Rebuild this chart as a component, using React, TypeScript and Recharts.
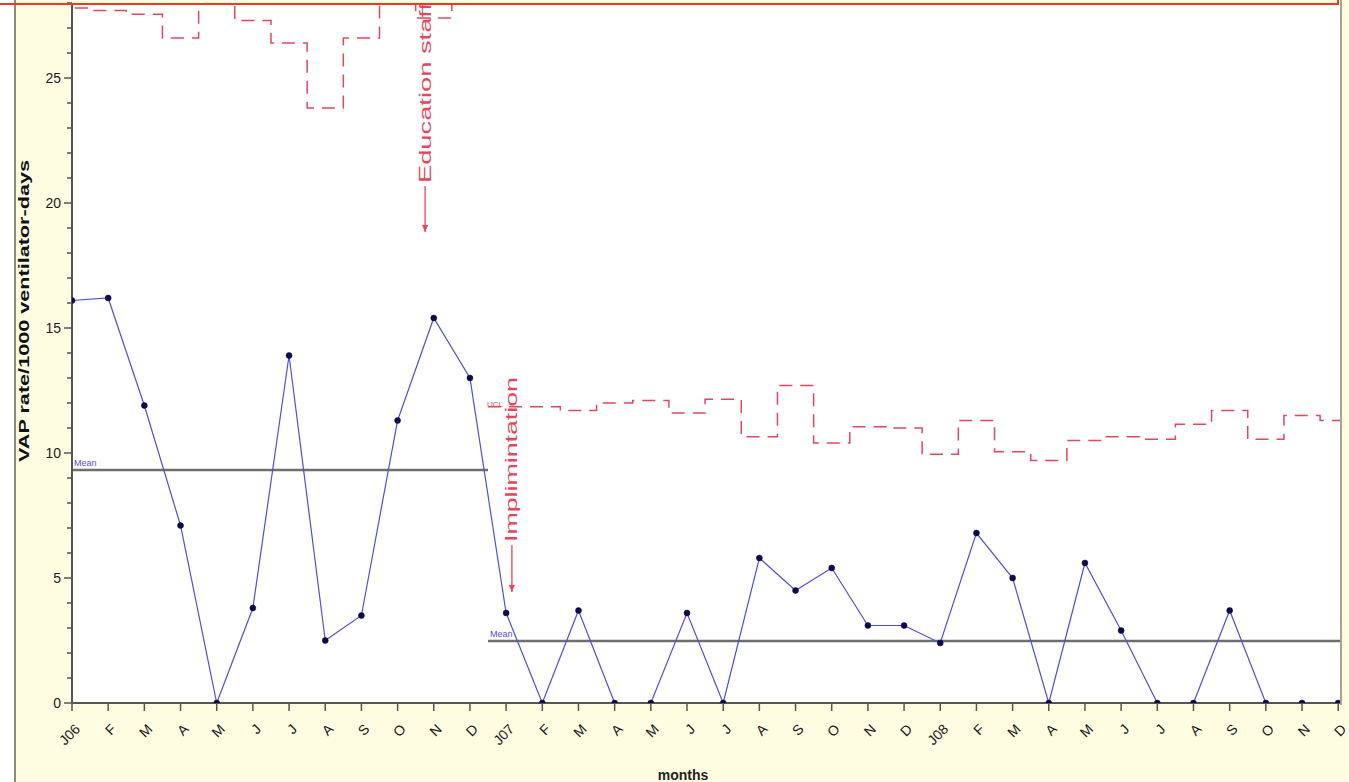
import React from 'react';
import { ComposedChart, Line, XAxis, YAxis, CartesianGrid, ReferenceLine } from 'recharts';

// months Jan 2006 .. Dec 2008
const months = [
  'J06', 'F', 'M', 'A', 'M', 'J', 'J', 'A', 'S', 'O', 'N', 'D',
  'J07', 'F', 'M', 'A', 'M', 'J', 'J', 'A', 'S', 'O', 'N', 'D',
  'J08', 'F', 'M', 'A', 'M', 'J', 'J', 'A', 'S', 'O', 'N', 'D',
];

// VAP rate per 1000 ventilator-days
const vapRate = [
  16.1, 16.2, 11.9, 7.1, 0, 3.8, 13.9, 2.5, 3.5, 11.3, 15.4, 13.0,
  3.6, 0, 3.7, 0, 0, 3.6, 0, 5.8, 4.5, 5.4, 3.1, 3.1,
  2.4, 6.8, 5.0, 0, 5.6, 2.9, 0, 0, 3.7, 0, 0, 0,
];

// upper control limits, before / after implementation
const uclBefore = [27.8, 27.7, 27.55, 26.6, 31, 27.3, 26.4, 23.8, 26.6, 30, 27.4, 30];
const uclAfter = [
  11.85, 11.85, 11.7, 12.0, 12.1, 11.6, 12.15, 10.65, 12.7, 10.4, 11.05, 11.0,
  9.95, 11.3, 10.05, 9.7, 10.5, 10.65, 10.55, 11.15, 11.7, 10.55, 11.5, 11.3,
];

const meanBefore = 9.32;
const meanAfter = 2.48;
const yTicks = Array.from({ length: 29 }, (_, i) => i);
const xTicks = months.map((_, i) => i);

const BLUE = '#4F4FDD';
const RED = '#E2475C';
const GREY = '#6E6E6E';
const X_MAX = 35.05;
const FONT = "Arial, 'Liberation Sans'";

const rateData = months.map((m, i) => ({ x: i, rate: vapRate[i] }));

// each limit covers its month from i-0.5 to i+0.5
const stepData = (values: number[], start: number) => [
  ...values.map((v, k) => ({ x: start + k - 0.5, ucl: v })),
  { x: start + values.length - 0.5, ucl: values[values.length - 1] },
];
const uclBeforeData = stepData(uclBefore, 0);
const uclAfterData = stepData(uclAfter, uclBefore.length);

const YTick = (props: any) => {
  const { x, y, payload } = props;
  const major = payload.value % 5 === 0;
  return (
    <g>
      <line x1={x - (major ? 8 : 5)} x2={x} y1={y} y2={y} stroke="#555" strokeWidth={1.5} />
      {major && (
        <text x={x - 11} y={y} dy={5} textAnchor="end" fontSize={14} fill="#1a1a1a" fontFamily={FONT}>
          {payload.value}
        </text>
      )}
    </g>
  );
};

const XTick = (props: any) => {
  const { x, y, payload } = props;
  const tx = x + 9;
  const ty = y + 27;
  return (
    <g>
      <line x1={x} x2={x} y1={y} y2={y + 8} stroke="#555" strokeWidth={1.5} />
      <text x={tx} y={ty} textAnchor="end" transform={`rotate(-45 ${tx} ${ty})`} fontSize={14} fill="#1a1a1a" fontFamily={FONT}>
        {months[payload.value]}
      </text>
    </g>
  );
};

const meanShape = (p: any) => (
  <g>
    <line x1={p.x1} y1={p.y1} x2={p.x2} y2={p.y2} stroke={GREY} strokeWidth={2.5} />
    <text x={Math.min(p.x1, p.x2) + 2} y={p.y1 - 4} fontSize={9} fill={BLUE} fontFamily={FONT}>Mean</text>
  </g>
);

const arrowShape = (label: string, len: number) => (p: any) => {
  const tipY = Math.max(p.y1, p.y2);
  const topY = Math.min(p.y1, p.y2);
  const x = p.x1;
  return (
    <g>
      <line x1={x} y1={topY} x2={x} y2={tipY} stroke={RED} strokeWidth={1.3} />
      <path d={`M${x - 3},${tipY - 7} L${x + 3},${tipY - 7} L${x},${tipY} Z`} fill={RED} />
      <text
        transform={`translate(${x},${topY - 3}) rotate(-90)`}
        textAnchor="start"
        dominantBaseline="central"
        fontSize={17}
        textLength={len}
        lengthAdjust="spacingAndGlyphs"
        fill={RED}
        fontFamily={FONT}
      >
        {label}
      </text>
    </g>
  );
};

const App: React.FC = () => {
  return (
    <div style={{ position: 'absolute', left: 0, top: 0, width: 1349, height: 782, background: '#FEFDE2', overflow: 'hidden' }}>
      <div style={{ position: 'absolute', left: 0, top: 0, width: 14, height: 782, background: '#fff', borderRight: '2px solid #8C8C78' }} />
      <div style={{ position: 'absolute', left: 0, top: 0 }}>
        <ComposedChart width={1349} height={782} margin={{ top: 3, right: 9, bottom: 0, left: 0 }}>
          <CartesianGrid horizontal={false} vertical={false} fill="#FFFFFF" />
          <XAxis
            dataKey="x"
            type="number"
            domain={[0, X_MAX]}
            ticks={xTicks}
            interval={0}
            allowDataOverflow
            height={79}
            tickSize={0}
            tickMargin={0}
            tick={<XTick />}
            axisLine={{ stroke: '#555', strokeWidth: 2 }}
            label={{
              content: () => (
                <text x={683} y={780} textAnchor="middle" fontSize={14} fontWeight="bold" fill="#222" fontFamily={FONT}>
                  months
                </text>
              ),
            }}
          />
          <YAxis
            type="number"
            domain={[0, 28]}
            ticks={yTicks}
            interval={0}
            allowDataOverflow
            width={72}
            tickSize={0}
            tickMargin={0}
            tick={<YTick />}
            axisLine={{ stroke: '#555', strokeWidth: 2 }}
            label={{
              content: () => (
                <text
                  transform="translate(29,311) rotate(-90)"
                  textAnchor="middle"
                  fontSize={15}
                  fontWeight={600}
                  textLength={302}
                  lengthAdjust="spacingAndGlyphs"
                  fill="#111"
                  fontFamily={FONT}
                >
                  VAP rate/1000 ventilator-days
                </text>
              ),
            }}
          />
          <ReferenceLine segment={[{ x: 0, y: meanBefore }, { x: 11.5, y: meanBefore }]} ifOverflow="visible" shape={meanShape} />
          <ReferenceLine segment={[{ x: 11.5, y: meanAfter }, { x: X_MAX, y: meanAfter }]} ifOverflow="visible" shape={meanShape} />
          <Line data={uclBeforeData} dataKey="ucl" type="stepAfter" stroke={RED} strokeWidth={1.5} strokeDasharray="13 8" dot={false} isAnimationActive={false} />
          <Line data={uclAfterData} dataKey="ucl" type="stepAfter" stroke={RED} strokeWidth={1.5} strokeDasharray="13 8" dot={false} isAnimationActive={false} />
          <Line
            data={rateData}
            dataKey="rate"
            type="linear"
            stroke={BLUE}
            strokeWidth={1.2}
            dot={{ r: 3, fill: '#0B0B4A', stroke: '#0B0B4A', strokeWidth: 0.5 }}
            isAnimationActive={false}
          />
          <ReferenceLine segment={[{ x: 9.76, y: 18.84 }, { x: 9.76, y: 20.68 }]} ifOverflow="visible" shape={arrowShape('Education staff', 180)} />
          <ReferenceLine segment={[{ x: 12.16, y: 4.44 }, { x: 12.16, y: 6.32 }]} ifOverflow="visible" shape={arrowShape('Implimintation', 165)} />
        </ComposedChart>
      </div>
      <div style={{ position: 'absolute', left: 1340, top: 0, width: 2, height: 705, background: '#A6A690' }} />
      <div style={{ position: 'absolute', left: 487, top: 400, fontSize: 8, color: RED, fontFamily: 'Arial' }}>UCL</div>
      <div style={{ position: 'absolute', left: -4, top: -20, width: 1339, height: 21, border: '2px solid #F03A1E' }} />
    </div>
  );
};

export default App;
